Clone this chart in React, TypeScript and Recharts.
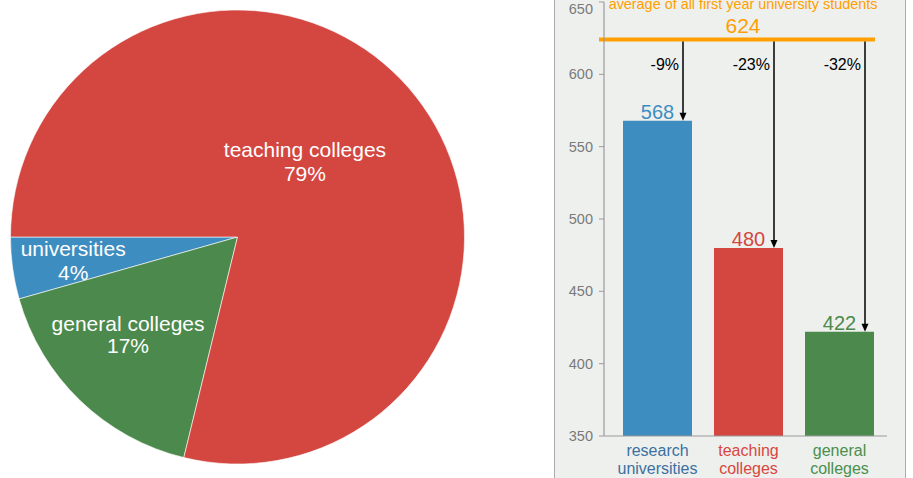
import React from 'react';
import {
  PieChart,
  Pie,
  Cell,
  BarChart,
  Bar,
  XAxis,
  YAxis,
  ReferenceLine,
  LabelList,
} from 'recharts';

// ---------- data ----------
const PIE_NAMES = ['universities', 'general colleges', 'teaching colleges'];
const PIE_SHARES = [4.4, 16.8, 78.8];

const BAR_CATEGORIES = ['research universities', 'teaching colleges', 'general colleges'];
const BAR_TICK_LINES = [
  ['research', 'universities'],
  ['teaching', 'colleges'],
  ['general', 'colleges'],
];
const BAR_VALUES = [568, 480, 422];
const BAR_CHANGES = ['-9%', '-23%', '-32%'];
const AVERAGE_VALUE = 624;
const AVERAGE_TITLE = 'average of all first year university students';
const Y_TICKS = [350, 400, 450, 500, 550, 600, 650];
const Y_MIN = 350;
const Y_MAX = 650;

// ---------- styles ----------
const FONT = '"Liberation Sans", Arial, Helvetica, sans-serif';
const BLUE = '#3e8dc0';
const RED = '#d44640';
const GREEN = '#4c894c';
const ORANGE = '#ff9f00';
const PIE_COLORS = [BLUE, GREEN, RED];
const BAR_COLORS = [BLUE, RED, GREEN];
const TICK_TEXT_COLORS = ['#3b70a0', '#d9463f', '#4a8f4a'];
const PIE_LABEL_R = [0.729, 0.635, 0.46];
const PIE_LABEL_DA = [-1.2, -5.5, 11.6];
const PIE_LABEL_GAP = [23.3, 22, 23.3];

const pieData = PIE_NAMES.map((name, i) => ({ name, value: PIE_SHARES[i] }));
const barData = BAR_CATEGORIES.map((name, i) => ({ name, value: BAR_VALUES[i] }));

const RAD = Math.PI / 180;

const PieLabel = (props: any) => {
  const { cx, cy, midAngle, outerRadius, index, name, value } = props;
  const a = (midAngle + PIE_LABEL_DA[index]) * RAD;
  const r = outerRadius * PIE_LABEL_R[index];
  const px = cx + r * Math.cos(a);
  const py = cy - r * Math.sin(a);
  return (
    <text
      x={px}
      y={py}
      fill="#ffffff"
      fontSize={21}
      fontFamily={FONT}
      textAnchor="middle"
    >
      <tspan x={px} y={py}>{name}</tspan>
      <tspan x={px} y={py + PIE_LABEL_GAP[index]}>{Math.round(Number(value))}%</tspan>
    </text>
  );
};

const BarAnnotation = (props: any) => {
  const { x, y, width, height, index, value } = props;
  const nx = Number(x);
  const ny = Number(y);
  const nw = Number(width);
  const nh = Number(height);
  const v = Number(value);
  const perUnit = nh / (v - Y_MIN);
  const yAvg = ny - (AVERAGE_VALUE - v) * perUnit;
  const ax = nx + nw - 9;
  return (
    <g>
      <text
        x={nx + nw / 2}
        y={ny - 2}
        fill={BAR_COLORS[index]}
        fontSize={20}
        fontFamily={FONT}
        textAnchor="middle"
      >
        {v}
      </text>
      <line x1={ax} y1={yAvg + 2} x2={ax} y2={ny - 7} stroke="#000" strokeWidth={1.5} />
      <polygon
        points={`${ax - 3.5},${ny - 8} ${ax + 3.5},${ny - 8} ${ax},${ny}`}
        fill="#000"
      />
      <text
        x={ax - 4}
        y={yAvg + 30.5}
        fill="#000"
        fontSize={16}
        fontFamily={FONT}
        textAnchor="end"
      >
        {BAR_CHANGES[index]}
      </text>
    </g>
  );
};

const AverageLine = (props: any) => {
  const { x1, y1, x2 } = props;
  const sx = Number(x1) - 5;
  const ex = Number(x2) - 12;
  const yy = Number(y1);
  const mid = (Number(x1) + Number(x2)) / 2 - 2.5;
  return (
    <g>
      <line x1={sx} y1={yy} x2={ex} y2={yy} stroke={ORANGE} strokeWidth={4} />
      <text x={mid} y={yy - 6.6} fill={ORANGE} fontSize={21} fontFamily={FONT} textAnchor="middle">
        {AVERAGE_VALUE}
      </text>
      <text x={mid} y={yy - 31} fill={ORANGE} fontSize={14.4} fontFamily={FONT} textAnchor="middle">
        {AVERAGE_TITLE}
      </text>
    </g>
  );
};

const XTick = (props: any) => {
  const { x, y, payload } = props;
  const idx = BAR_CATEGORIES.indexOf(payload.value);
  const lines = BAR_TICK_LINES[idx] || [payload.value];
  return (
    <text
      x={x}
      y={y}
      fill={TICK_TEXT_COLORS[idx]}
      fontSize={16}
      fontFamily={FONT}
      textAnchor="middle"
    >
      <tspan x={x} y={Number(y) + 20}>{lines[0]}</tspan>
      <tspan x={x} y={Number(y) + 38}>{lines[1]}</tspan>
    </text>
  );
};

export default function App() {
  return (
    <div
      style={{
        position: 'absolute',
        left: 0,
        top: 0,
        width: 913,
        height: 478,
        overflow: 'hidden',
        background: '#ffffff',
        fontFamily: FONT,
      }}
    >
      <div style={{ position: 'absolute', left: 0, top: 0 }}>
        <PieChart width={470} height={478} margin={{ top: 0, right: 0, bottom: 0, left: 0 }}>
          <Pie
            data={pieData}
            dataKey="value"
            nameKey="name"
            cx={237.5}
            cy={237}
            outerRadius={227}
            startAngle={180}
            endAngle={540}
            stroke="#ffffff"
            strokeWidth={0.6}
            labelLine={false}
            label={PieLabel}
            isAnimationActive={false}
          >
            {pieData.map((d, i) => (
              <Cell key={d.name} fill={PIE_COLORS[i]} />
            ))}
          </Pie>
        </PieChart>
      </div>

      <div
        style={{
          position: 'absolute',
          left: 554,
          top: -1,
          width: 350,
          height: 480,
          border: '1px solid #ababab',
          background: '#eef0ee',
        }}
      />

      <div style={{ position: 'absolute', left: 554, top: 0 }}>
        <BarChart
          width={351}
          height={478}
          data={barData}
          margin={{ top: 2, right: 18, bottom: 0, left: 0 }}
          barSize={69}
        >
          <XAxis
            dataKey="name"
            height={42}
            axisLine={{ stroke: '#9a9a9a', strokeWidth: 1.2 }}
            tickLine={false}
            tickSize={0}
            tickMargin={0}
            padding={{ left: 8, right: 2 }}
            interval={0}
            tick={<XTick />}
          />
          <YAxis
            width={50}
            domain={[Y_MIN, Y_MAX]}
            ticks={Y_TICKS}
            allowDataOverflow
            axisLine={{ stroke: '#9a9a9a', strokeWidth: 1.2 }}
            tickLine={{ stroke: '#9a9a9a' }}
            tickSize={5}
            tickMargin={6}
            tick={{ fill: '#7a7a7a', fontSize: 14.5, fontFamily: FONT }}
          />
          <Bar dataKey="value" isAnimationActive={false}>
            {barData.map((d, i) => (
              <Cell key={d.name} fill={BAR_COLORS[i]} />
            ))}
            <LabelList dataKey="value" content={<BarAnnotation />} />
          </Bar>
          <ReferenceLine y={AVERAGE_VALUE} shape={<AverageLine />} />
        </BarChart>
      </div>
    </div>
  );
}
